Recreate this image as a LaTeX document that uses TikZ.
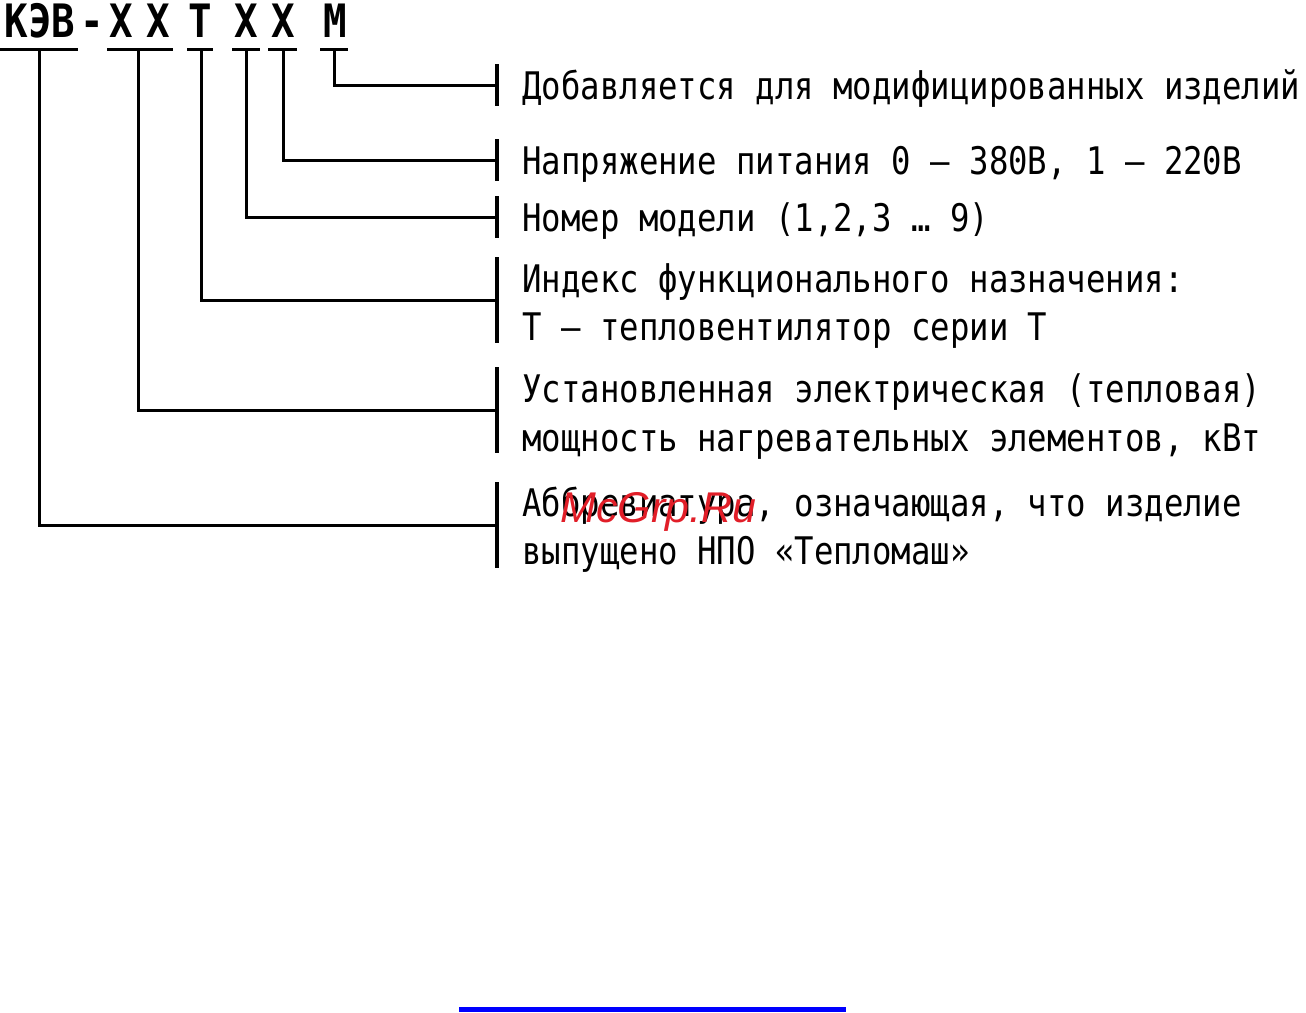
\documentclass[tikz,border=0pt]{standalone}
\usepackage{fontspec}
\newfontfamily\gost[FakeStretch=0.85]{DejaVu Sans Mono}
\newfontfamily\gosth[FakeStretch=0.85]{DejaVu Sans Mono Bold}
\newfontfamily\wmfont{Liberation Sans}
\definecolor{wmred}{RGB}{225,30,40}
\definecolor{lineblue}{RGB}{0,0,255}
\begin{document}
\begin{tikzpicture}[x=0.5pt,y=-0.5pt,
  conn/.style={line width=1.5pt,line cap=rect},
  ubar/.style={line width=1.5pt},
  vbar/.style={line width=2pt},
  desc/.style={anchor=base west,inner sep=0pt,font=\gost\fontsize{19pt}{19pt}\selectfont},
  hdr/.style={anchor=base,inner sep=0pt,font=\gosth\fontsize{23pt}{23pt}\selectfont}]
\useasboundingbox (0,0) rectangle (1306,1012);
% header
\node[hdr] (kev) at (40,37) {КЭВ};
\node[hdr] (dash) at (92,37) {-};
\node[hdr] (x1) at (121,37) {X};
\node[hdr] (x2) at (158,37) {X};
\node[hdr] (t) at (200,37) {Т};
\node[hdr] (x3) at (246,37) {X};
\node[hdr] (x4) at (283,37) {X};
\node[hdr] (m) at (335,37) {М};
% underline segments
\draw[ubar] (0,49) -- (78,49);
\draw[ubar] (107,49) -- (173,49);
\draw[ubar] (187,49) -- (213,49);
\draw[ubar] (232,49) -- (260,49);
\draw[ubar] (268,49) -- (297,49);
\draw[ubar] (320,49) -- (348,49);
\coordinate (u1) at (39,49);
\coordinate (u2) at (138,49);
\coordinate (u3) at (201,49);
\coordinate (u4) at (246,49);
\coordinate (u5) at (283,49);
\coordinate (u6) at (334,49);
% bar midpoints
\coordinate (b6) at (497,85);
\coordinate (b5) at (497,160);
\coordinate (b4) at (497,217);
\coordinate (b3) at (497,300);
\coordinate (b2) at (497,410);
\coordinate (b1) at (497,525);
% connectors
\draw[conn] (u6) |- (b6);
\draw[conn] (u5) |- (b5);
\draw[conn] (u4) |- (b4);
\draw[conn] (u3) |- (b3);
\draw[conn] (u2) |- (b2);
\draw[conn] (u1) |- (b1);
% vertical bars
\draw[vbar] (b6) ++(0,-21) -- ++(0,42);
\draw[vbar] (b5) ++(0,-21) -- ++(0,42);
\draw[vbar] (b4) ++(0,-21) -- ++(0,42);
\draw[vbar] (b3) ++(0,-43) -- ++(0,86);
\draw[vbar] (b2) ++(0,-43) -- ++(0,86);
\draw[vbar] (b1) ++(0,-43) -- ++(0,86);
% descriptions
\node[desc] (d6) at (522,99) {Добавляется для модифицированных изделий};
\node[desc] (d5) at (522,174) {Напряжение питания 0 – 380В, 1 – 220В};
\node[desc] (d4) at (522,231) {Номер модели (1,2,3 … 9)};
\node[desc] (d3a) at (522,292) {Индекс функционального назначения:};
\node[desc] (d3b) at (522,340) {Т – тепловентилятор серии Т};
\node[desc] (d2a) at (522,402) {Установленная электрическая (тепловая)};
\node[desc] (d2b) at (522,451) {мощность нагревательных элементов, кВт};
\node[desc] (d1a) at (522,516) {Аббревиатура, означающая, что изделие};
\node[desc] (d1b) at (522,564) {выпущено НПО «Тепломаш»};
% watermark
\node[anchor=base west,inner sep=0pt,text=wmred,font=\wmfont\itshape\fontsize{21.5pt}{21.5pt}\selectfont] (wm) at (560,522) {McGrp.Ru};
% blue line
\coordinate (bl1) at (459,1009.5);
\coordinate (bl2) at (846,1009.5);
\draw[lineblue,line width=2.5pt] (bl1) -- (bl2);
\end{tikzpicture}
\end{document}
